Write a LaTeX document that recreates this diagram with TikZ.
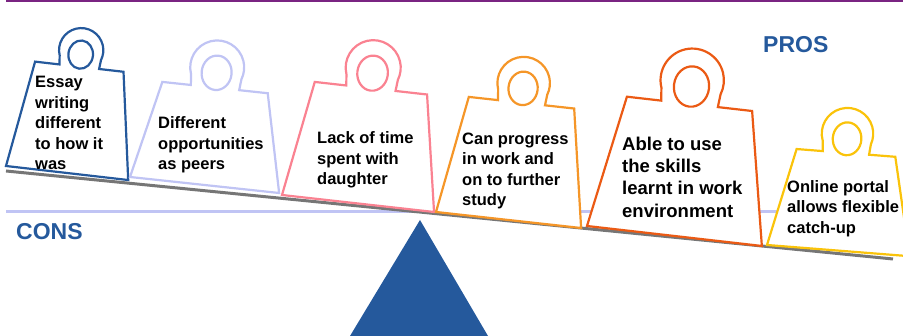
\documentclass[tikz,border=0pt]{standalone}
\usepackage{fontspec}
\setmainfont{Liberation Sans}
\usepackage{tikz}
\usetikzlibrary{positioning}
\definecolor{wblue}{RGB}{37,89,156}
\definecolor{wlav}{RGB}{192,196,244}
\definecolor{wpink}{RGB}{250,130,145}
\definecolor{worange}{RGB}{245,150,40}
\definecolor{wred}{RGB}{235,90,20}
\definecolor{wyellow}{RGB}{250,195,10}
\definecolor{beamgray}{RGB}{118,118,118}
\definecolor{topline}{RGB}{122,36,130}

\begin{document}
\begin{tikzpicture}[x=1pt,y=1pt,
    weight/.style={line width=2.2pt, fill=white, line join=miter},
    lbl/.style={anchor=north west, inner sep=0pt, align=left, font=\fontsize{16.5}{20.5}\selectfont\bfseries},
    side/.style={anchor=base west, inner sep=0pt, text=wblue, font=\fontsize{23}{27}\selectfont\bfseries}]
    \useasboundingbox (0,0) rectangle (903,336);
    \clip (0,0) rectangle (903,336);
    \draw[line width=2.5pt, topline] (6,335) -- (903,335);
    \draw[line width=3pt, wlav] (6,124.5) -- (790,124.5);
    \draw[line width=3pt, beamgray] (6,165) -- (893,77);
    \fill[wblue] (350,0) -- (420,116) -- (488,0) -- cycle;
    % weights: lower left corner, tilt, width, inset, height, colour
    \foreach \bx/\by/\ang/\ww/\kk/\hh/\col in {6/170/6.55/123/17/107/wblue,
        130/159/6.13/150/22/98/wlav, 282/141/6.38/153/20/116/wpink,
        436/124/6.30/146/20/118/worange, 587/110/6.52/176/25/133/wred,
        767/91/4.5/143/22/98/wyellow}{
      \begin{scope}[shift={(\bx,\by)}, rotate=-\ang]
        \pgfmathsetmacro\rr{0.18*\ww}
        \pgfmathsetmacro\cx{\ww/2}
        \pgfmathsetmacro\cy{\hh+0.75*\rr}
        \filldraw[weight, draw=\col] (0,0) -- (\kk,\hh) -- (\cx-0.9*\rr,\hh)
          -- ([shift={(200:\rr)}]\cx,\cy) arc[start angle=200, end angle=-20, radius=\rr]
          -- (\cx+0.9*\rr,\hh) -- (\ww-\kk,\hh) -- (\ww,0) -- cycle;
        \draw[weight, draw=\col] (\cx,\cy-0.2*\rr) ellipse [x radius=0.1*\ww, y radius=0.115*\ww];
      \end{scope}
    }
    \node[lbl] (essay) at (35,260) {Essay\\writing\\different\\to how it\\was};
    \node[lbl] (peers) at (158,219.3) {Different\\opportunities\\as peers};
    \node[lbl] (daughter) at (317,204.3) {Lack of time\\spent with\\daughter};
    \node[lbl] (progress) at (462,203.3) {Can progress\\in work and\\on to further\\study};
    \node[lbl, font=\fontsize{18.5}{22.3}\selectfont\bfseries] (skills) at (622,199.3) {Able to use\\the skills\\learnt in work\\environment};
    \node[lbl] (portal) at (787,156) {Online portal\\allows flexible\\catch-up};
    \node[side] (pros) at (763,283) {PROS};
    \node[side] (cons) at (16,96) {CONS};
\end{tikzpicture}
\end{document}
